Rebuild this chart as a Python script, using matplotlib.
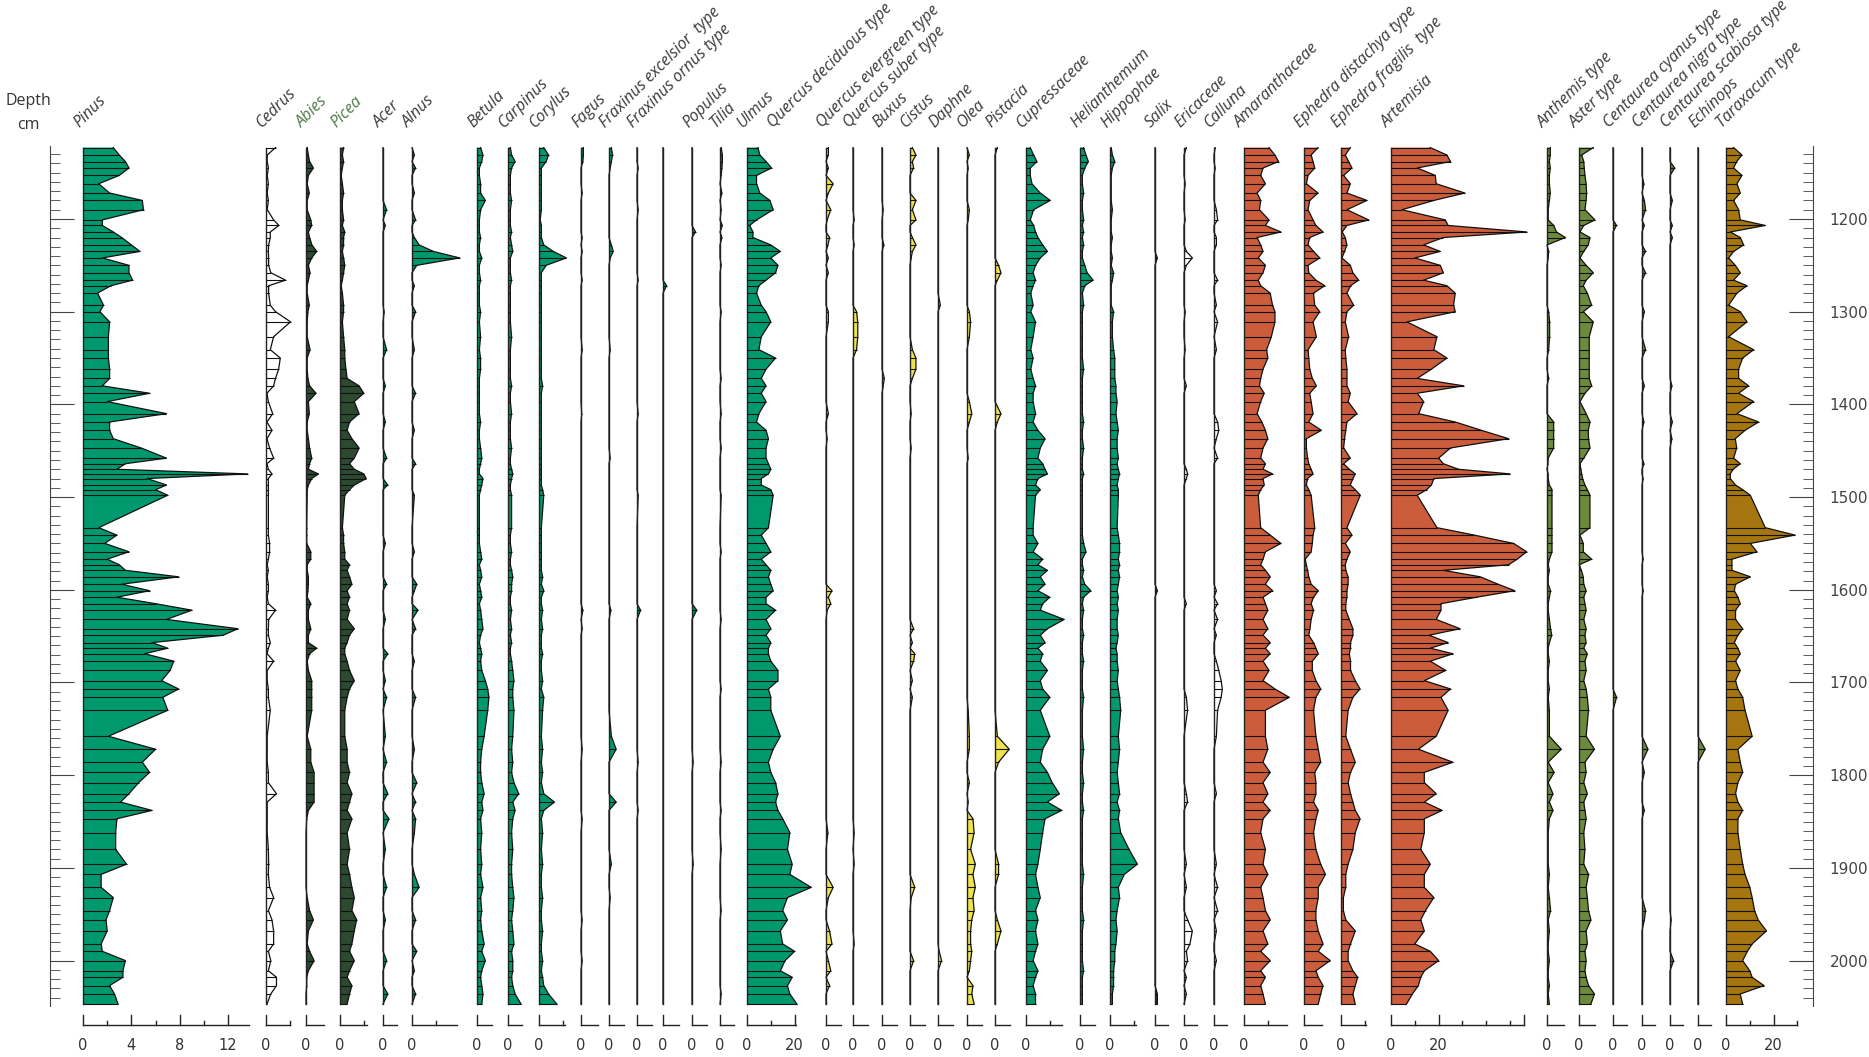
"""Pollen percentage diagram, one column per taxon against depth."""

import numpy as np
import matplotlib.pyplot as plt

W, H = 1869, 1057
TOP, BOT = 140, 1010            # pixel rows of the depth window
D_TOP, D_BOT = 1114.8, 2053.3   # depths at those rows
UNIT = 2.38                     # px per percent
PINUS_UNIT = 12.1

# Sample depths (cm)
depth = np.array([
    1123, 1131, 1138, 1145, 1153, 1162, 1172, 1180, 1190, 1201,
    1207, 1214, 1220, 1228, 1235, 1242, 1250, 1258, 1266, 1272,
    1280, 1293, 1300, 1311, 1327, 1341, 1350, 1362, 1372, 1380,
    1388, 1397, 1410, 1419, 1428, 1437, 1447, 1458, 1464, 1470,
    1475, 1480, 1487, 1492, 1498, 1533, 1541, 1550, 1559, 1567,
    1573, 1579, 1586, 1594, 1601, 1608, 1615, 1622, 1632, 1642,
    1649, 1657, 1663, 1669, 1677, 1687, 1698, 1707, 1716, 1730,
    1758, 1772, 1786, 1797, 1808, 1820, 1829, 1838, 1847, 1862,
    1880, 1896, 1907, 1921, 1932, 1946, 1956, 1968, 1982, 1990,
    2000, 2011, 2018, 2027, 2036, 2047])

pinus = [2.5, 3.0, 3.5, 3.8, 3.0, 1.3, 2.2, 4.9, 5.0, 1.6,
         1.6, 2.5, 3.2, 4.0, 4.7, 1.6, 3.8, 3.8, 4.1, 2.3,
         1.2, 1.7, 1.4, 2.2, 2.1, 2.1, 2.1, 2.2, 2.2, 1.6,
         5.5, 2.0, 6.9, 2.2, 2.2, 2.5, 4.8, 6.9, 3.5, 2.8,
         13.6, 5.3, 6.9, 6.0, 7.0, 1.3, 2.8, 1.8, 3.8, 2.0,
         3.0, 3.5, 7.9, 3.2, 5.5, 2.8, 6.0, 9.0, 6.9, 12.8,
         11.6, 5.7, 7.0, 5.1, 7.5, 7.2, 6.5, 7.9, 6.6, 7.0,
         2.1, 6.0, 4.9, 5.5, 4.6, 3.8, 3.1, 5.7, 2.8, 2.7,
         2.7, 3.6, 1.5, 1.5, 2.5, 2.2, 1.9, 2.0, 1.5, 1.6,
         3.5, 3.3, 3.3, 2.2, 2.6, 2.9]

cedrus = [4, 0.5, 0.5, 1, 0.5, 1, 0.5, 1, 0.5, 3.2,
          5.4, 1.8, 1.8, 1.1, 1, 1.1, 1.1, 2, 8.2, 1.1,
          1.1, 1.8, 4, 10.3, 3.2, 1.8, 6, 5.3, 4, 3.2,
          0.4, 1, 2.8, 0.4, 2.5, 0.4, 1.5, 3.2, 0.4, 1,
          2.5, 1, 1, 1, 1, 1, 1, 1.5, 1.5, 1,
          0.5, 1, 0.5, 1, 1, 0.5, 1, 4, 1.1, 1,
          1, 1.8, 1, 0.5, 3.2, 0.5, 0.5, 1, 1, 1.8,
          0.5, 0.5, 0.5, 1, 1, 4.4, 0.5, 0.5, 0.5, 0.5,
          1, 1.1, 1, 1.5, 3.2, 1, 2.5, 3.2, 3.2, 1,
          2, 1, 4.4, 4.4, 2, 0.4]

abies = [0.5, 1, 1.5, 3.1, 1, 0.5, 1.4, 0.5, 0.5, 2,
         2.4, 1, 1.5, 2.5, 4.5, 2.4, 1, 1.7, 1, 0.5,
         0.5, 1.4, 0.8, 0.5, 0.5, 1.7, 0.5, 0.5, 0.8, 1.5,
         4.2, 1, 1.4, 0.5, 0.5, 1, 1.5, 2.4, 1.5, 1,
         5.2, 2.4, 1, 0.5, 0.5, 0.3, 0.3, 0.3, 2, 2,
         0.5, 0.5, 1, 1, 0.8, 0.5, 2, 1, 1, 2,
         1, 1, 4.5, 1.5, 0.5, 1, 2.4, 2.4, 2.4, 2.4,
         0.5, 2, 2, 3.4, 3.4, 3.4, 3.4, 1, 0.3, 0,
         0, 0, 0, 0, 0.5, 1.5, 3.1, 1, 0.5, 1.5,
         3.4, 1, 0.3, 0.3, 0, 0]

picea = [1.5, 1, 1.5, 1, 0.5, 1, 1.5, 1, 1, 1.5,
         1, 2, 1.5, 1.5, 1, 1.5, 2, 1.5, 1, 0.5,
         1, 1.5, 1.5, 1, 1.5, 2, 2, 2.5, 3, 8,
         10, 6, 8, 4, 3, 5, 8, 6, 4, 6,
         10, 11, 6, 4, 2, 1, 1.5, 1.5, 2, 2,
         4, 3, 4, 5, 3, 4, 3, 4, 3, 6,
         4, 3, 2, 2, 3, 4, 6, 4, 3, 2,
         2, 3, 3, 4, 3, 5, 4, 3, 5, 3,
         4, 3, 4, 5, 6, 5, 7, 6, 5, 4,
         6, 4, 3, 5, 4, 3]

betula = [1.5, 2.5, 2, 1, 1, 1.5, 1.5, 3.5, 1.5, 1,
          1, 1, 1.5, 1, 1, 2, 1, 1, 1.5, 1,
          1, 1, 1.5, 1, 1.5, 1, 1.5, 1.5, 1, 1,
          1, 1, 1, 1.5, 1, 1, 1.5, 2, 1.5, 1,
          1, 2.5, 2, 1.5, 1, 1, 1, 1, 1.5, 2,
          1, 1.5, 2, 1, 1.5, 2, 1, 1.5, 2, 2.5,
          1.5, 1, 1.5, 2, 1.5, 2, 3.5, 4.5, 5, 4.5,
          3, 2, 1.5, 1.5, 2, 3, 2, 2.5, 1.5, 2,
          1.5, 2, 1.5, 2.5, 1.5, 2, 1.5, 2, 3, 2,
          3.5, 2, 1.5, 2, 2.5, 2]

carpinus = [1, 1.5, 3, 1.5, 1, 1, 1, 1.5, 1, 1,
            1, 1.5, 1, 1.5, 2, 1, 1, 1, 1.5, 1,
            1, 1, 1, 1, 1.5, 1, 1, 1, 1, 1.5,
            1, 1, 1.5, 1, 1, 1, 1.5, 1, 1, 1.5,
            2, 1.5, 1, 1, 1.5, 1.5, 1, 1, 1.5, 1,
            1, 1.5, 2, 1.5, 1.5, 1, 1, 1.5, 1, 1.5,
            1, 1.5, 1, 1, 1.5, 2, 2.5, 2, 2, 2.5,
            2, 1.5, 2, 1.5, 2.5, 4.5, 2, 3, 2, 1.5,
            2, 1.5, 1.5, 2, 2.5, 2, 1.5, 2, 2.5, 1.5,
            2, 2, 1.5, 2, 3, 5.5]

corylus = [2, 4, 3, 1, 1, 1, 1, 1, 1, 0.5,
           1, 1, 1, 2, 6, 11.5, 3, 1, 1, 1,
           1, 1, 1, 1, 1, 1, 1, 1, 1, 1.5,
           1, 1, 1, 1, 1, 1, 1, 1, 1, 1,
           1, 1, 1, 1.5, 2, 1, 1, 1, 1, 1,
           1, 1, 1.5, 1, 2, 1, 1, 1.5, 1, 1.5,
           1, 1, 1, 1.5, 1, 1, 1.5, 1, 2, 1.5,
           1, 1.5, 1, 1.5, 1, 2, 6.5, 2, 1, 1.5,
           1, 1.5, 1, 1, 1.5, 1, 1, 1.5, 1, 1,
           1.5, 1, 1.5, 2, 4, 7.5]

ulmus = [4.6, 5.4, 8, 10.3, 4, 4, 5.4, 9.6, 11, 4,
         1.1, 2.5, 2.5, 10, 14, 10, 13, 12, 8, 5,
         4, 6, 8, 10, 6, 5, 12, 8, 6, 8,
         6, 8, 5, 4, 8, 9, 8, 8, 9, 10,
         9, 6, 6, 10, 11, 9, 6, 8, 10, 6,
         8, 10, 9, 10, 11, 8, 8, 12, 8, 10,
         8, 10, 9, 9, 10, 13, 13, 9, 10, 10,
         14, 11, 9, 10, 12, 13, 12, 13, 15, 18,
         17, 19, 18, 27, 17, 15, 17, 14, 15, 20,
         16, 14, 19, 17, 18, 21]

cupressaceae = [1.8, 3.2, 4.6, 1.8, 1.8, 2.5, 6, 10.2, 3.2, 1.8,
                3.2, 4, 5, 7, 9, 6, 4, 3, 4, 3,
                2, 3, 2, 4, 3, 2, 3, 2, 3, 4,
                3, 3, 4, 3, 5, 8, 6, 5, 7, 8,
                9, 5, 4, 6, 4, 3, 3, 5, 3, 7,
                5, 9, 6, 8, 5, 10, 7, 6, 16, 9,
                6, 8, 5, 7, 6, 9, 6, 7, 10, 6,
                10, 7, 6, 9, 11, 14, 9, 15, 8, 7,
                6, 5, 4, 5, 6, 4, 5, 4, 5, 4,
                3, 5, 4, 3, 4, 4]

helianthemum = [1.5, 2.5, 3.5, 2, 1, 1, 1.5, 1, 1, 1.5,
                1, 1.5, 1, 1.5, 1, 1, 2, 3, 5.5, 2,
                1, 1.5, 1, 1, 1, 1, 1, 1.5, 1, 1,
                1, 1, 1, 1.5, 1, 1, 1.5, 1, 1, 1,
                1.5, 1, 1, 1, 1, 1, 1, 1.5, 2.5, 1,
                1, 1.5, 1, 2, 4.5, 1.5, 1, 1.5, 1, 1,
                1.5, 1, 1, 1, 1.5, 1, 1, 1, 1.5, 1,
                1, 1.5, 1, 1, 1.5, 1, 1, 1.5, 1, 1,
                1, 1, 1.5, 1, 1, 1, 1.5, 1, 1, 1,
                1, 1.5, 1, 1, 1, 1]

hippophae = [0.5, 1, 2, 1, 0.5, 0.5, 0.5, 0.5, 1, 0.5,
             0.5, 0.5, 1, 0.5, 0.5, 1, 0.5, 1.5, 1, 0.5,
             0.5, 0.5, 1.5, 1, 1, 1.5, 2, 2, 2, 2.5,
             2.5, 3, 2.5, 3, 3.5, 3, 3, 3.5, 3, 3.5,
             4, 3.5, 3, 3.5, 3.5, 3, 3.5, 4, 4, 3.5,
             4, 3.5, 4, 3.5, 3, 3.5, 3, 3.5, 3, 3,
             3.5, 3, 2.5, 3, 3, 3.5, 3, 3.5, 4, 4.5,
             3.5, 4, 3.5, 3, 3.5, 4, 3, 4, 3.5, 4.5,
             8, 11.5, 6, 3.5, 4, 3, 2.5, 3, 2.5, 2,
             2, 1.5, 1.5, 1.5, 1, 1]

amaranthaceae = [10.5, 13, 14.5, 8, 7, 9, 5.5, 7, 6.5, 10.5,
                 9, 15.5, 5.5, 7, 8, 6, 9, 8, 6, 7,
                 11, 12, 13, 13, 11.5, 9.5, 10, 8, 7, 6.5,
                 8.5, 7, 5.5, 7.5, 9, 10, 8, 7, 9, 8,
                 12, 8, 8.5, 7, 6, 7, 11, 15.5, 9, 8,
                 7, 9, 11, 9, 12, 8, 9, 10, 8, 10,
                 8, 11, 9, 11, 8, 10.5, 8, 13, 19, 9,
                 9, 10, 8, 11, 8, 10, 8, 11, 8, 7,
                 9, 8, 10, 7, 8, 9, 11, 8, 10, 7,
                 11, 7, 9, 7, 8, 9]

eph_dist = [5.9, 3, 3.8, 4.5, 1.7, 1, 5.9, 2.4, 1.7, 3.8,
            5, 8, 2.4, 1.7, 4, 6.6, 1.7, 2, 5, 8.7,
            4, 4.5, 6.6, 3.8, 5.2, 1.7, 2, 2.4, 3.5, 5.2,
            2.4, 3, 3.8, 2, 7.3, 1, 1, 1.5, 2, 3,
            3.8, 1.5, 1, 2, 3, 4.5, 3.8, 3.5, 3, 0.5,
            1, 1.5, 2, 3, 6, 4, 3, 4, 3, 2.5,
            2, 4, 5, 6, 3.5, 3.5, 5, 7, 5, 4,
            5, 6, 7, 4.5, 5, 5, 4, 6, 5, 4,
            5, 7, 9, 6, 6, 5, 5, 6, 8, 6,
            11, 5, 6, 8, 7, 6]

eph_frag = [3.9, 1.8, 3.2, 4.6, 1.1, 3.9, 2.5, 10.9, 2.5, 11.6,
            2.5, 0.5, 1.8, 2.5, 1.5, 0.4, 3.9, 5, 7.4, 4,
            2.5, 5.3, 2.5, 1.8, 3.2, 1.8, 2, 2.5, 2.5, 2.5,
            3.9, 3, 6.7, 2.5, 2, 1.5, 1.1, 3.9, 1.1, 3.5,
            6, 5, 3.9, 6, 8.1, 2.5, 4.6, 1.8, 3.9, 2.5,
            1.8, 2, 3, 3, 2.5, 2.5, 2, 2, 3.5, 5,
            5, 4, 4, 3.5, 4, 4, 6, 8, 5, 3,
            2, 4, 6, 4, 3, 4, 5, 6, 8, 6,
            5, 3, 2, 2, 1, 1, 2, 6, 4, 3,
            3, 5, 7, 6, 5, 6]

artemisia = [16.5, 23.5, 25, 11, 18.6, 19, 31, 18, 4.6, 22.8,
             24, 57, 22, 13.7, 20.7, 10, 20.7, 22, 13.7, 23.5,
             27, 26.3, 27, 6.7, 19.3, 18, 23.5, 17, 11, 30.5,
             11, 13.7, 11.6, 27, 38, 49.4, 25, 20, 22, 28.4,
             50, 18, 17, 15, 11, 19.3, 35, 51.5, 57, 53,
             49.4, 22, 37.5, 45, 52, 36, 21, 21, 19, 29,
             16, 24, 16.5, 26, 16.5, 23, 14, 25, 21, 24,
             19, 11.5, 26, 14, 14, 19, 14, 21.5, 14, 14,
             12.5, 16.5, 14, 14, 18, 14.5, 12.5, 14, 10, 16.5,
             20, 14, 12.5, 11.5, 9, 6.5]

anthemis = [1.4, 1.4, 1, 1.4, 1, 1, 1.4, 1, 0.5, 0.5,
            2.8, 4, 7.7, 0, 0.7, 0.5, 0, 0, 0, 0,
            0, 0, 0.7, 1.1, 1.1, 0.7, 0, 0, 0.7, 0,
            0, 0, 0, 2.8, 2.8, 2.8, 2.8, 0.5, 0.4, 0,
            0.5, 0.5, 1, 2.1, 2.1, 2.1, 2.1, 2.1, 2.1, 1,
            0.5, 1, 0.5, 0.5, 1.5, 1, 0.5, 0.5, 1, 1.5,
            2, 1, 0.5, 0.5, 1, 0.5, 0.5, 1, 0.5, 1,
            1, 6, 0.5, 3, 0.5, 2.5, 1, 2.5, 1, 0.5,
            0.5, 0.5, 1, 0.5, 1, 1.5, 0.5, 1, 0.5, 0.5,
            1, 0.5, 0.5, 1, 0.5, 1]

aster = [6, 1.1, 2, 2.2, 2.5, 3, 3.2, 3, 2.5, 6.7,
         2, 0.4, 4.6, 3.9, 2, 0.4, 3, 6, 3, 1.8,
         3.5, 5.3, 1.8, 6, 4.3, 4.3, 4.3, 4.3, 4.3, 5.3,
         2.5, 0.4, 3, 4.6, 3.9, 4, 4.6, 2, 0.4, 0.8,
         1.1, 1.5, 2.5, 3.5, 4.6, 4.6, 0.4, 1.8, 1.8, 5.3,
         0.1, 1, 1.8, 2, 3, 2, 2.5, 3, 2, 3,
         2.5, 3, 2, 3.5, 2.5, 3, 2, 3, 3.5, 4,
         3, 6.5, 2.5, 3, 2, 3.5, 2, 2.5, 3, 2,
         2.5, 2, 4, 3, 3.5, 4, 5, 3, 3.5, 2.5,
         3, 2.5, 3, 4, 6.5, 5]

taraxacum = [3.2, 6.7, 4.5, 3.2, 6.7, 4.6, 6, 3.2, 5.3, 6,
             16.5, 1.8, 6, 7.4, 3.2, 1.1, 3.9, 6, 3.2, 8.8,
             4.6, 1.1, 6, 8.8, 1.1, 11.6, 7, 5.3, 5.3, 9.5,
             5.3, 11.6, 4.6, 13.7, 8, 3.9, 4.5, 3.2, 6, 3,
             1.8, 1.8, 4, 7, 10.2, 16.5, 29, 10.2, 13, 2.5,
             2.5, 2.5, 10.2, 4, 3.5, 5, 6, 4, 4, 7,
             5, 3.5, 5, 6, 4, 6, 4, 5, 7, 8,
             11, 5, 6, 7, 5, 4, 5, 7, 5, 5,
             6, 7, 8, 10, 11, 12, 13.5, 17, 11, 9,
             7, 10, 11, 16, 6, 7]

# Sparse taxa: {depth: percent}, absent elsewhere
acer = {1190: 1.5, 1207: 1, 1300: 0.5, 1341: 1.5, 1380: 1, 1419: 1, 1458: 1.5,
        1487: 2, 1550: 1, 1594: 1.5, 1632: 1, 1669: 2, 1698: 1, 1716: 1.5,
        1758: 1, 1786: 1.5, 1820: 2, 1847: 2.5, 1880: 1, 1921: 1.5, 1956: 1,
        2000: 1.5, 2036: 2}
alnus = {1131: 1, 1145: 1.5, 1172: 1, 1201: 1.5, 1220: 1, 1228: 3, 1235: 9,
         1242: 20, 1250: 2, 1272: 1, 1300: 1.5, 1341: 1, 1388: 1.5, 1428: 1,
         1464: 1.5, 1498: 1, 1559: 1, 1594: 2, 1601: 1, 1622: 2.5, 1642: 1.5,
         1677: 1, 1716: 1.5, 1772: 1, 1808: 2, 1829: 1.5, 1847: 1.5, 1862: 1,
         1907: 1, 1921: 3, 1956: 1.5, 1990: 2, 2011: 1, 2036: 1.5}
fagus = {1123: 1, 1131: 1, 1138: 0.8, 1172: 0.5, 1220: 0.5, 1235: 0.5,
         1266: 0.5, 1341: 0.5, 1410: 0.3, 1622: 0.8, 1642: 0.5, 1772: 0.5,
         1847: 0.5, 1956: 0.5, 2000: 0.5}
frax_exc = {1123: 1, 1131: 1.5, 1138: 1, 1145: 0.5, 1228: 1, 1235: 1.8,
            1242: 0.5, 1341: 0.5, 1458: 0.5, 1622: 0.8, 1758: 1, 1772: 3,
            1829: 3, 1896: 1, 1932: 0.5}
frax_orn = {1145: 0.5, 1190: 0.5, 1266: 0.5, 1410: 0.5, 1498: 0.5, 1622: 1.5,
            1786: 0.5, 1838: 0.5}
unnamed = {1272: 1.5}
populus = {1214: 1.5, 1622: 2, 1786: 0.5, 1896: 0.5}
tilia = {1123: 0.5, 1131: 1, 1138: 1, 1145: 0.8, 1153: 0.5, 1172: 0.8,
         1190: 0.5, 1207: 1, 1220: 0.8, 1250: 0.5, 1300: 0.5, 1372: 0.5,
         1410: 0.5, 1447: 0.5, 1498: 0.5, 1559: 0.5, 1632: 0.5, 1707: 0.5,
         1786: 0.5, 1838: 0.5, 1880: 0.5, 1946: 0.5, 2036: 0.5}
q_evergreen = {1123: 1, 1131: 1, 1145: 1, 1162: 3, 1172: 1, 1190: 2, 1201: 0.5,
               1220: 1.5, 1228: 0.8, 1242: 1, 1258: 1, 1300: 1, 1311: 1,
               1410: 1, 1437: 0.5, 1601: 2.5, 1608: 1, 1615: 2, 1622: 0.5,
               1862: 0.8, 1921: 3, 1932: 1, 1968: 1.5, 1982: 2.5, 2000: 1,
               2011: 2, 2027: 1.5}
q_suber = {1201: 0.5, 1228: 0.5, 1300: 1.5, 1311: 2, 1327: 2, 1341: 1.5,
           1862: 0.5, 1896: 0.5, 1982: 0.5}
buxus = {1190: 0.5, 1228: 0.8, 1372: 1, 1380: 0.5}
cistus = {1123: 1, 1131: 2.5, 1138: 1, 1145: 1.5, 1180: 2.5, 1190: 1,
          1201: 2.5, 1220: 1, 1228: 2.5, 1235: 1, 1242: 0.5, 1341: 1,
          1350: 2.5, 1362: 2.5, 1372: 1, 1410: 0.5, 1447: 0.5, 1642: 1.5,
          1657: 1, 1669: 2, 1677: 1.5, 1698: 1, 1716: 1, 1921: 2, 1932: 0.5,
          2000: 1.5}
daphne = {1293: 1, 1990: 0.5, 2000: 1.5}
olea = {1131: 1, 1145: 0.5, 1190: 1, 1201: 0.5, 1300: 1, 1311: 1.5, 1327: 1,
        1397: 1, 1410: 2, 1419: 1, 1458: 0.5, 1730: 0.5, 1758: 1, 1772: 1,
        1808: 1, 1829: 0.5, 1847: 2.5, 1862: 3, 1880: 1.5, 1896: 3.5,
        1907: 2.5, 1921: 3.5, 1932: 2.5, 1946: 3, 1956: 2, 1968: 1.5,
        1982: 1.5, 1990: 2, 2000: 1.5, 2011: 1, 2027: 2.5, 2036: 2, 2047: 3}
pistacia = {1123: 1, 1250: 1.5, 1258: 2.5, 1266: 1, 1410: 2.5, 1419: 1,
            1758: 1, 1772: 6, 1786: 1.5, 1896: 1.5, 1907: 1.5, 1956: 1,
            1968: 2.5, 1982: 1}
salix = {1242: 1, 1601: 1, 2036: 1, 2047: 1}
ericaceae = {1123: 1, 1162: 0.5, 1201: 0.5, 1235: 1, 1242: 3.5, 1250: 1,
             1300: 0.5, 1341: 0.5, 1380: 1, 1470: 1, 1475: 1.5, 1480: 1,
             1615: 1, 1716: 1, 1730: 1.5, 1820: 1, 1829: 1.5, 1896: 1,
             1921: 1, 1956: 1.5, 1968: 3.5, 1982: 2.5, 1990: 1, 2000: 1.5,
             2018: 1, 2036: 1}
calluna = {1123: 0.5, 1145: 0.5, 1190: 1, 1201: 1.5, 1220: 1, 1228: 1,
           1266: 1.5, 1293: 1, 1311: 1.5, 1341: 1, 1419: 1.5, 1428: 2,
           1437: 1, 1458: 1.5, 1601: 1, 1615: 1.5, 1632: 1.5, 1649: 1,
           1677: 1, 1687: 2, 1698: 3, 1707: 3.5, 1716: 3, 1730: 1.5, 1758: 1,
           1820: 1, 1896: 1, 1921: 1.5, 1946: 1.5, 1968: 1, 2000: 1}
c_cyanus = {1207: 1.5, 1716: 1.5}
c_nigra = {1162: 0.8, 1180: 1, 1190: 1.5, 1207: 1, 1235: 1.5, 1258: 1.5,
           1300: 1, 1341: 1.5, 1380: 1, 1419: 0.8, 1464: 0.8, 1480: 0.5,
           1567: 0.5, 1601: 0.5, 1772: 2.5, 1797: 1, 1838: 1, 1946: 1.5,
           1956: 1}
c_scabiosa = {1145: 2, 1180: 1, 1207: 1, 1220: 1, 1380: 0.8, 1419: 1,
              1437: 0.8, 1956: 0.5, 2000: 1.5}
echinops = {1772: 3}


def on_grid(points):
    v = np.zeros(len(depth))
    for d, x in points.items():
        v[np.argmin(np.abs(depth - d))] = x
    return v


GREEN = "#00996e"
DKGREEN = "#2c4a30"
YELLOW = "#efe34b"
ORANGE = "#cb5d3c"
OLIVE = "#6b8a3c"
GOLD = "#a5760f"
WHITE = "white"

# label, values, zero position (px), axis length (%), fill colour
columns = [
    ("Pinus", pinus, 83, 13.7, GREEN),
    ("Cedrus", cedrus, 266, 10, WHITE),
    ("Abies", abies, 306, 7.5, DKGREEN),
    ("Picea", picea, 340, 11.5, DKGREEN),
    ("Acer", on_grid(acer), 383, 6, GREEN),
    ("Alnus", on_grid(alnus), 412, 19, GREEN),
    ("Betula", betula, 477, 6.4, GREEN),
    ("Carpinus", carpinus, 508, 6, GREEN),
    ("Corylus", corylus, 539, 11, GREEN),
    ("Fagus", on_grid(fagus), 581, 7, GREEN),
    ("Fraxinus excelsior  type", on_grid(frax_exc), 609, 6.4, GREEN),
    ("Fraxinus ornus type", on_grid(frax_orn), 637, 6.4, GREEN),
    ("", on_grid(unnamed), 663, 6.9, GREEN),
    ("Populus", on_grid(populus), 692, 6.4, GREEN),
    ("Tilia", on_grid(tilia), 720, 6, GREEN),
    ("Ulmus", ulmus, 747, 20.5, GREEN),
    ("Quercus evergreen type", on_grid(q_evergreen), 826, 6.2, YELLOW),
    ("Quercus suber type", on_grid(q_suber), 853, 6.5, YELLOW),
    ("Buxus", on_grid(buxus), 882, 6.5, YELLOW),
    ("Cistus", on_grid(cistus), 910, 6.5, YELLOW),
    ("Daphne", on_grid(daphne), 938, 6.5, YELLOW),
    ("Olea", on_grid(olea), 967, 6.2, YELLOW),
    ("Pistacia", on_grid(pistacia), 995, 6.5, YELLOW),
    ("Cupressaceae", cupressaceae, 1026, 15, GREEN),
    ("Helianthemum", helianthemum, 1080, 6.2, GREEN),
    ("Hippophae", hippophae, 1110, 11, GREEN),
    ("Salix", on_grid(salix), 1155, 5.5, "#333333"),
    ("Ericaceae", on_grid(ericaceae), 1184, 5.5, WHITE),
    ("Calluna", on_grid(calluna), 1214, 5.5, WHITE),
    ("Amaranthaceae", amaranthaceae, 1244, 18, ORANGE),
    ("Ephedra distachya type", eph_dist, 1304, 7.5, ORANGE),
    ("Ephedra fragilis  type", eph_frag, 1341, 10.7, ORANGE),
    ("Artemisia", artemisia, 1391, 56, ORANGE),
    ("Anthemis type", anthemis, 1547, 7, OLIVE),
    ("Aster type", aster, 1579, 6.7, OLIVE),
    ("Centaurea cyanus type", on_grid(c_cyanus), 1613, 5.7, OLIVE),
    ("Centaurea nigra type", on_grid(c_nigra), 1642, 5.5, OLIVE),
    ("Centaurea scabiosa type", on_grid(c_scabiosa), 1670, 5.5, OLIVE),
    ("Echinops", on_grid(echinops), 1698, 5.5, OLIVE),
    ("Taraxacum type", taraxacum, 1726, 30, GOLD),
]
labelled_ticks = {"Pinus": [0, 4, 8, 12], "Ulmus": [0, 20],
                  "Artemisia": [0, 20], "Taraxacum type": [0, 20]}

fig = plt.figure(figsize=(W / 100, H / 100), dpi=100)
LABEL_FONT = ["Open Sans", "DejaVu Sans"]
NUM_FONT = ["Liberation Sans Narrow", "DejaVu Sans"]
LABEL_KW = dict(rotation=45, rotation_mode="anchor", ha="left",
                va="baseline", style="italic", fontsize=11.5,
                family=LABEL_FONT)

for name, vals, x0, amax, color in columns:
    unit = PINUS_UNIT if name == "Pinus" else UNIT
    w = amax * unit
    v = np.asarray(vals, dtype=float)

    ax = fig.add_axes([x0 / W, 1 - BOT / H, w / W, (BOT - TOP) / H])
    ax.set_xlim(0, amax)
    ax.set_ylim(D_BOT, D_TOP)
    ax.axis("off")
    ax.fill_betweenx(depth, 0, v, facecolor=color, edgecolor="none",
                     clip_on=False)
    ax.hlines(depth, 0, v, colors="#111111", lw=0.8, clip_on=False)
    ax.plot(v, depth, color="#111111", lw=0.9, clip_on=False)
    ax.plot([0, 0], [depth[0], depth[-1]], color="#222222", lw=1.0,
            clip_on=False)

    # percentage scale under the column
    bx = fig.add_axes([x0 / W, 1 - 1027 / H, w / W, 22 / H])
    bx.set_xlim(0, amax)
    bx.set_ylim(0, 22)
    bx.axis("off")
    bx.plot([0, amax], [2, 2], color="#222222", lw=1.0, clip_on=False)
    step = 2 if name == "Pinus" else 10
    labs = labelled_ticks.get(name, [0])
    for t in np.arange(0, amax + 1e-6, step):
        top = 12 if t in labs else 6
        bx.plot([t, t], [2, top], color="#222222", lw=1.0, clip_on=False)
    if name == "Artemisia":
        bx.plot([amax, amax], [2, 12], color="#222222", lw=1.0, clip_on=False)
    for t in labs:
        bx.text(t, -19, str(t), ha="center", va="center", fontsize=10.5,
                family=NUM_FONT, color="#333333")

    if name:
        fig.text((x0 - 4) / W, 1 - 128 / H, name,
                 color="#4d7a48" if name in ("Abies", "Picea") else "#3a3a3a",
                 **LABEL_KW)

fig.text(773 / W, 1 - 128 / H, "Quercus deciduous type", color="#3a3a3a",
         **LABEL_KW)

# depth axes
fig.text(28 / W, 1 - 101 / H, "Depth", ha="center", va="center",
         fontsize=11.5, family=LABEL_FONT, color="#333333")
fig.text(28 / W, 1 - 125 / H, "cm", ha="center", va="center",
         fontsize=11.5, family=LABEL_FONT, color="#333333")

for side, xpos in (("left", 50), ("right", 1793)):
    dx = fig.add_axes([xpos / W, 1 - BOT / H, 20 / W, (BOT - TOP) / H])
    dx.set_ylim(D_BOT, D_TOP)
    dx.patch.set_visible(False)
    for s in ("left", "right", "top", "bottom"):
        dx.spines[s].set_visible(s == side)
    dx.spines[side].set_bounds(1121, 2049)
    dx.spines[side].set_color("#444444")
    dx.set_xticks([])
    dx.set_yticks(np.arange(1200, 2001, 100))
    dx.set_yticks(np.arange(1130, 2050, 10), minor=True)
    if side == "right":
        dx.yaxis.tick_right()
        dx.tick_params(axis="y", which="major", labelsize=11, pad=12,
                       labelcolor="#444444")
    else:
        dx.set_yticklabels([])
    dx.tick_params(axis="y", which="major", direction="in", length=17,
                   color="#444444")
    dx.tick_params(axis="y", which="minor", direction="in", length=7,
                   color="#444444")

fig.savefig("out.png", dpi=100)
